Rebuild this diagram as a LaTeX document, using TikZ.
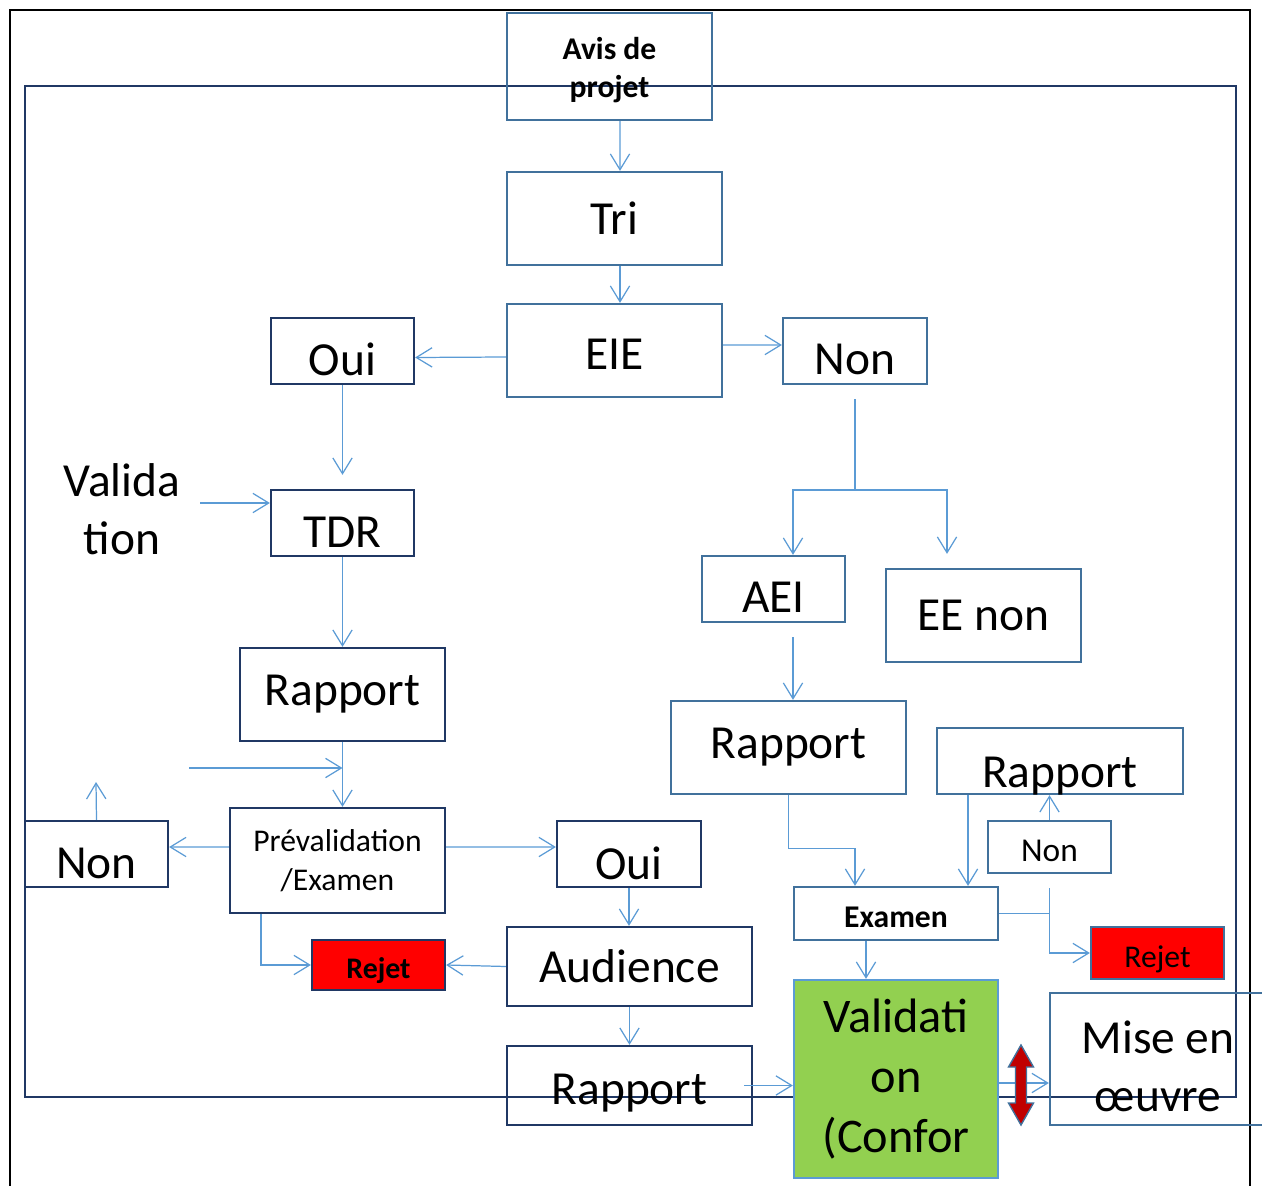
\documentclass[tikz,border=0pt]{standalone}
\usepackage{fontspec}
\setmainfont{Carlito}
\usetikzlibrary{arrows.meta}
\definecolor{steel}{HTML}{41719C}
\definecolor{navy}{HTML}{203864}
\definecolor{flow}{HTML}{5B9BD5}
\definecolor{okgreen}{HTML}{92D050}
\definecolor{darkred}{HTML}{C00000}
% text set lower in its box, keeping its size
\newcommand{\dropby}[2]{\raisebox{-#1}[\height][\depth]{#2}}
\tikzset{
  box/.style={draw=steel, line width=1.3pt, inner sep=0pt, align=center}, % plain boxes
  navybox/.style={box, draw=navy}, % boxes with the dark border
  bigtext/.style={font=\fontsize{27}{33}\selectfont},
  midtext/.style={font=\fontsize{18}{22}\selectfont},
  midbold/.style={font=\fontsize{18}{22}\selectfont\bfseries},
  flowline/.style={draw=flow, line width=0.7pt},
  flowarrow/.style={flowline, -{Straight Barb[length=9pt,width=11pt]}},
}
\begin{document}
\begin{tikzpicture}[x=0.02cm, y=-0.02cm]
  \clip (0,0) rectangle (1262,1186);
  % frames
  \draw[line width=1.3pt] (10,10) rectangle (1250,1230);
  \draw[navy, line width=1.3pt] (25,86) rectangle (1236,1097);

  % left branch
  \node[box, midbold, minimum width=4.1cm, minimum height=2.14cm] (avis) at (609.5,66.5) {\dropby{2pt}{Avis de}\\\dropby{2pt}{projet}};
  \node[box, bigtext, minimum width=4.3cm, minimum height=1.86cm] (tri) at (614.5,218.5) {Tri};
  \node[box, bigtext, minimum width=4.3cm, minimum height=1.86cm] (eie) at (614.5,350.5) {\dropby{2pt}{EIE}};
  \node[navybox, bigtext, minimum width=2.86cm, minimum height=1.32cm] (oui1) at (342.5,351) {\dropby{4.5pt}{Oui}};
  \node[box, bigtext, minimum width=2.88cm, minimum height=1.32cm] (non1) at (855,351) {\dropby{5pt}{Non}};
  \node[align=center, bigtext] (valtxt) at (122,509) {Valida\\tion};
  \node[navybox, bigtext, minimum width=2.86cm, minimum height=1.32cm] (tdr) at (342.5,523) {\dropby{5pt}{TDR}};
  \node[navybox, bigtext, minimum width=4.1cm, minimum height=1.86cm] (rapL) at (342.5,694.5) {Rapport};
  \node[navybox, midtext, minimum width=4.3cm, minimum height=2.1cm] (prev) at (337.5,860.5) {Prévalidation\\/Examen};
  \node[navybox, bigtext, minimum width=2.86cm, minimum height=1.32cm] (nonL) at (96.5,854) {\dropby{5.5pt}{Non}};
  \node[navybox, bigtext, minimum width=2.88cm, minimum height=1.32cm] (oui2) at (629,854) {\dropby{5.5pt}{Oui}};
  \node[navybox, fill=red, font=\fontsize{17}{20}\selectfont\bfseries, minimum width=2.66cm, minimum height=1cm] (rejL) at (378.5,965) {\dropby{3.4pt}{Rejet}};
  \node[navybox, bigtext, minimum width=4.9cm, minimum height=1.58cm] (aud) at (629.5,966.5) {Audience};
  \node[navybox, bigtext, minimum width=4.9cm, minimum height=1.58cm] (rapB) at (629.5,1085.5) {\dropby{4.5pt}{Rapport}};

  % right branch
  \node[box, bigtext, minimum width=2.86cm, minimum height=1.32cm] (aei) at (773.5,589) {\dropby{4.5pt}{AEI}};
  \node[box, bigtext, minimum width=3.9cm, minimum height=1.86cm] (eenon) at (983.5,615.5) {EE non};
  \node[box, bigtext, minimum width=4.7cm, minimum height=1.86cm] (rapR) at (788.5,747.5) {Rapport};
  \node[box, bigtext, minimum width=4.92cm, minimum height=1.32cm] (rap2) at (1060,761) {\dropby{8.5pt}{Rapport}};
  \node[box, font=\fontsize{19}{22}\selectfont, minimum width=2.46cm, minimum height=1.04cm] (non2) at (1049.5,847) {\dropby{2pt}{Non}};
  \node[box, midbold, minimum width=4.08cm, minimum height=1.06cm] (exam) at (896,913.5) {\dropby{2pt}{Examen}};
  \node[box, fill=red, midtext, minimum width=2.66cm, minimum height=1.04cm] (rejR) at (1157.5,953) {\dropby{3.4pt}{Rejet}};
  \node[box, draw=flow, fill=okgreen, font=\fontsize{27.5}{34}\selectfont, minimum width=4.08cm, minimum height=3.96cm] (valid) at (896,1079) {Validati\\on\\(Confor};
  \node[box, bigtext, minimum width=4.32cm, minimum height=2.64cm] (mise) at (1158,1059) {\dropby{4pt}{Mise en}\\\dropby{4pt}{\oe uvre}};

  % free ends
  \coordinate (vin) at (200,503);
  \coordinate (fb) at (189,768);
  \coordinate (nup) at (96,782);
  \coordinate (split) at (855,490);

  % connectors
  \draw[flowarrow] ([xshift=0.21cm]avis.south) -- ([xshift=0.11cm]tri.north);
  \draw[flowarrow] ([xshift=0.11cm]tri.south) -- ([xshift=0.11cm]eie.north);
  \draw[flowarrow] ([yshift=-0.13cm]eie.west) -- ([yshift=-0.13cm]oui1.east);
  \draw[flowarrow] ([yshift=0.11cm]eie.east) -- ([yshift=0.12cm]non1.west);
  \draw[flowarrow] (oui1.south) -- ([yshift=0.28cm]tdr.north);
  \draw[flowarrow] (vin) -- (vin -| tdr.west);
  \draw[flowarrow] (tdr.south) -- (rapL.north);
  \draw[flowarrow] (rapL.south) -- (rapL.south |- prev.north);
  \draw[flowarrow] (fb) -- (fb -| rapL.south);
  \draw[flowarrow] ([yshift=0.27cm]prev.west) -- ([yshift=0.14cm]nonL.east);
  \draw[flowarrow] (nonL.north) -- (nup);
  \draw[flowarrow] ([yshift=0.27cm]prev.east) -- ([yshift=0.14cm]oui2.west);
  \draw[flowarrow] ([xshift=-1.53cm]prev.south) |- (rejL.west);
  \draw[flowarrow] (aud.west) -- (rejL.east);
  \draw[flowarrow] (oui2.south) -- (oui2.south |- aud.north);
  \draw[flowarrow] (aud.south) -- (aud.south |- rapB.north);
  \draw[flowarrow] ([xshift=-0.18cm]rapB.east) -- (rapB.east -| valid.west);
  \draw[flowarrow] ([yshift=-0.08cm]valid.east) -- ([yshift=-0.08cm]valid.east -| mise.west);

  \draw[flowline] ([yshift=-0.28cm]non1.south) -- (split);
  \draw[flowarrow] (split) -| ([xshift=0.39cm]aei.north);
  \draw[flowarrow] (split) -| ([xshift=-0.73cm, yshift=0.28cm]eenon.north);
  \draw[flowarrow] ([xshift=0.39cm, yshift=-0.28cm]aei.south) -- ([xshift=0.39cm]aei.south |- rapR.north);
  \draw[flowarrow] (rapR.south) -- ++(0,53) -| ([xshift=-0.82cm]exam.north);
  \draw[flowarrow] ([xshift=-1.84cm]rap2.south) -- ([xshift=-1.84cm]rap2.south |- exam.north);
  \draw[flowarrow] (non2.north) -- (non2.north |- rap2.south);
  \draw[flowline] (exam.east) -- (exam.east -| non2.south);
  \draw[flowarrow] ([yshift=-0.28cm]non2.south) |- (rejR.west);
  \draw[flowarrow] ([xshift=-0.6cm]exam.south) -- ([xshift=-0.6cm]exam.south |- valid.north);

  % red double arrow
  \draw[steel, fill=darkred, line width=0.8pt] (1021,1045) -- (1033.5,1067) -- (1026.5,1067) -- (1026.5,1103) -- (1033.5,1103) -- (1021,1125) -- (1008.5,1103) -- (1015.5,1103) -- (1015.5,1067) -- (1008.5,1067) -- cycle;
\end{tikzpicture}
\end{document}
